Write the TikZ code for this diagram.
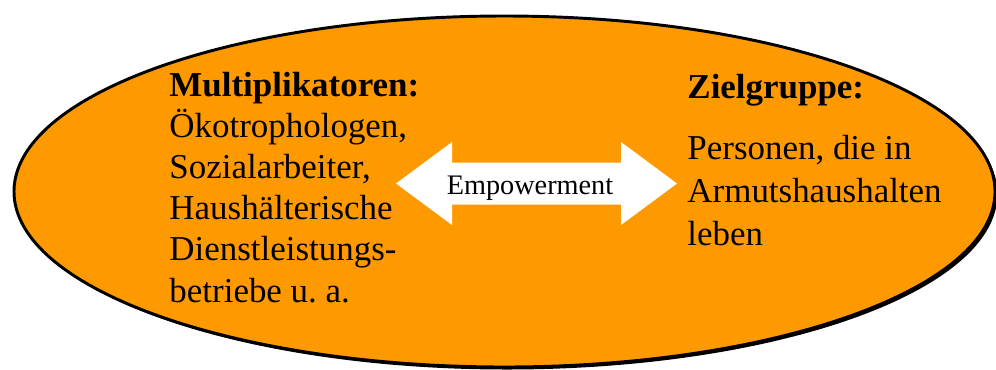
\documentclass[tikz,border=0pt]{standalone}
\usepackage{fontspec}
\setmainfont{Liberation Serif}

\definecolor{orangeFill}{HTML}{FF9900}

\begin{document}
\begin{tikzpicture}[x=0.75pt,y=-0.75pt,line width=2.2pt,
  coltext/.style={anchor=base west,align=left,inner sep=0pt,
    font=\fontsize{26.2}{30.8}\selectfont}]
  \useasboundingbox (0,0) rectangle (996,369);
  % ellipse mit leichtem schatten
  \fill[black] (507,194) ellipse [x radius=490.5, y radius=175.5];
  \draw[fill=orangeFill] (504.5,191.5) ellipse [x radius=490.5, y radius=175.5];
  % doppelpfeil
  \fill[white] (396,183.5) -- (452,142) -- (452,162.5) -- (621,162.5) -- (621,142)
    -- (677,183.5) -- (621,225) -- (621,204.5) -- (452,204.5) -- (452,225) -- cycle;
  \node[inner sep=0pt,font=\fontsize{21.2}{24}\selectfont,anchor=base] (empower) at (530,194) {Empowerment};
  % linke spalte (basis = letzte zeile)
  \node[coltext] (multi) at (168,302) {\textbf{Multiplikatoren:}\\
    Ökotrophologen,\\Sozialarbeiter,\\Haushälterische\\Dienstleistungs-\\betriebe u.\ a.};
  % rechte spalte
  \node[coltext] (ziel) at (686,98) {\textbf{Zielgruppe:}};
  \node[coltext,font=\fontsize{26.2}{32.2}\selectfont] (zielText) at (686,245)
    {Personen, die in\\Armutshaushalten\\leben};
\end{tikzpicture}
\end{document}
